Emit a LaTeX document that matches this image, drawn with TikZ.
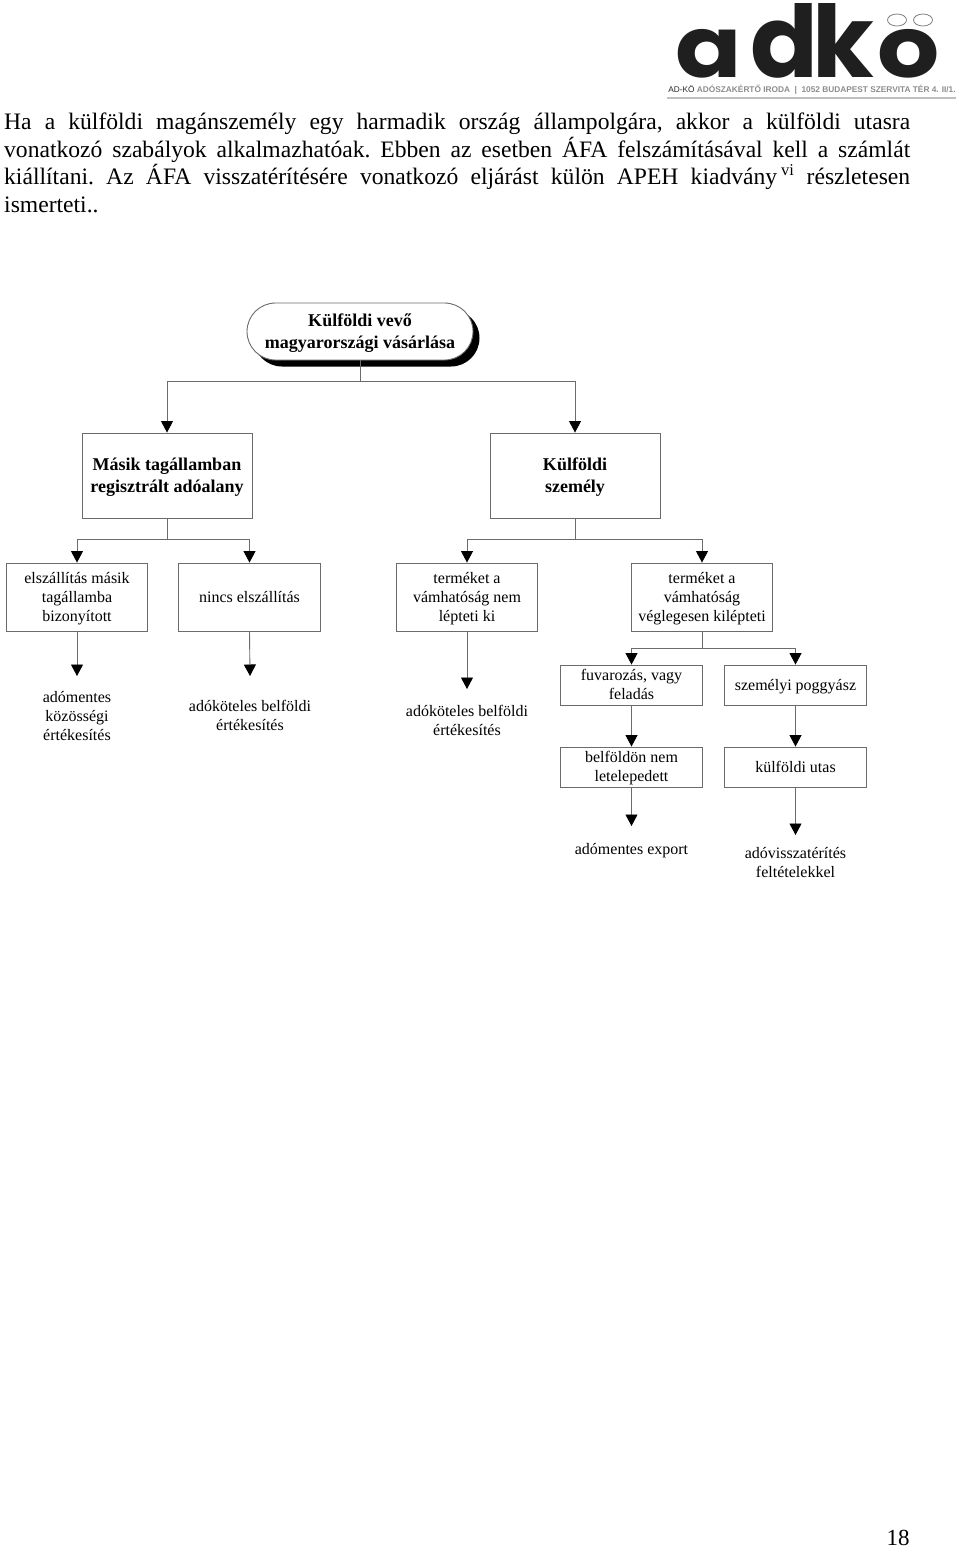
\documentclass[tikz,border=0pt]{standalone}
\usepackage{fontspec}
\setmainfont{Liberation Serif}
\newfontfamily\logofont{Poppins}
\newfontfamily\tagfont{Liberation Sans}
\usetikzlibrary{arrows.meta,shapes.misc,shadows}
\definecolor{linegray}{gray}{0.42}
\newcommand\chartstrut{\rule[-.22\baselineskip]{0pt}{\baselineskip}}
\newcommand\tallstrut{\rule{0pt}{.79\baselineskip}}
\tikzset{
  link/.style={draw=linegray,line width=0.9pt,-{Triangle[width=12pt,length=11.5pt,color=black]}},
  struttext/.style={execute at begin node=\chartstrut,execute at end node=\chartstrut},
  plainbox/.style={draw=linegray,line width=0.9pt,align=center,inner sep=0pt,struttext,font=\fontsize{16}{19}\selectfont},
  smallbox/.style={plainbox,minimum width=141.5pt,minimum height=68pt},
  thinbox/.style={plainbox,minimum width=141.5pt,minimum height=40pt},
  headbox/.style={plainbox,minimum width=170pt,minimum height=85pt,font=\fontsize{18}{22}\selectfont\bfseries},
  result/.style={align=center,inner sep=0pt,struttext,font=\fontsize{16}{19}\selectfont},
  logoletter/.style={inner sep=0pt,anchor=base,text=black!88,font=\logofont\fontsize{100}{100}\selectfont\bfseries},
  logoround/.style={logoletter,font=\logofont\fontsize{85}{85}\selectfont\bfseries}
}
\begin{document}
\begin{tikzpicture}[x=1pt,y=-1pt]
\useasboundingbox (0,0) rectangle (960,1548);
% logo
\node[logoround] (logoa) at (709,77) {\scalebox{1.15}[1]{a}};
\node[logoletter] (logod) at (784,77) {d};
\node[logoletter] (logok) at (843,77) {k};
\node[logoround] (logoo) at (909,77) {\scalebox{1.15}[1]{o}};
\draw[gray,line width=0.8pt] (897,20) ellipse (9.5 and 6);
\draw[gray,line width=0.8pt] (923,20) ellipse (9.5 and 6);
\node[inner sep=0pt,text=black!45,font=\tagfont\fontsize{8.3}{10}\selectfont\bfseries] (tagline) at (812,90)
  {\textcolor{black!85}{\mdseries AD-KÖ} ADÓSZAKÉRTŐ IRODA \;|\; 1052 BUDAPEST SZERVITA TÉR 4. II/1.};
\fill[black!25] (667,97) rectangle (956,99);
% text above the chart
\node[anchor=north west,inner sep=0pt,text width=906pt,align=justify,font=\fontsize{23.6}{27.5}\selectfont\frenchspacing] (intro) at (4,113)
  {Ha a külföldi magánszemély egy harmadik ország állampolgára, akkor a külföldi utasra\linebreak
   vonatkozó szabályok alkalmazhatóak. Ebben az esetben ÁFA felszámításával kell a számlát\linebreak
   kiállítani. Az ÁFA visszatérítésére vonatkozó eljárást külön APEH kiadvány\,\textsuperscript{vi} részletesen\linebreak
   ismerteti..};
% chart
\node[plainbox,rounded rectangle,minimum width=226pt,minimum height=57pt,fill=white,
  font=\fontsize{18}{22}\selectfont\bfseries,
  drop shadow={shadow xshift=6.5pt,shadow yshift=-6.5pt,fill=black,opacity=1}] (vevo) at (360,331.5)
  {\tallstrut Külföldi vevő\\magyarországi vásárlása};
\node[headbox] (adoalany) at (167,475.5) {\tallstrut Másik tagállamban\\regisztrált adóalany};
\node[headbox] (szemely) at (575,475.5) {\tallstrut Külföldi\\személy};
\node[smallbox] (bizonyitott) at (77,597) {\tallstrut elszállítás másik\\tagállamba\\bizonyított};
\node[smallbox] (nincs) at (249.5,597) {nincs elszállítás};
\node[smallbox] (nemlep) at (467,597) {\tallstrut terméket a\\vámhatóság nem\\lépteti ki};
\node[smallbox] (kilep) at (702,597) {\tallstrut terméket a\\vámhatóság\\véglegesen kilépteti};
\node[thinbox] (fuvar) at (631.5,685) {\tallstrut fuvarozás, vagy\\feladás};
\node[thinbox] (poggyasz) at (795.5,685) {személyi poggyász};
\node[thinbox] (letelep) at (631.5,767) {\tallstrut belföldön nem\\letelepedett};
\node[thinbox] (utas) at (795.5,767) {külföldi utas};
\node[result] (kozossegi) at (77,716) {\tallstrut adómentes\\közösségi\\értékesítés};
\node[result] (belfoldi) at (250,716) {\tallstrut adóköteles belföldi\\értékesítés};
\node[result] (belfoldib) at (467,721) {\tallstrut adóköteles belföldi\\értékesítés};
\node[result] (export) at (631.5,849) {adómentes export};
\node[result] (visszater) at (795.5,863) {\tallstrut adóvisszatérítés\\feltételekkel};
\coordinate (endkoz) at (77,676);
\coordinate (endbel) at (250,676);
\coordinate (endbelb) at (467,689);
\coordinate (endexp) at (631.5,826);
\coordinate (endvis) at (795.5,835);
% elbow connectors
\foreach \from/\to/\drop in {vevo/adoalany/20.5,vevo/szemely/20.5,adoalany/bizonyitott/21,adoalany/nincs/21,
  szemely/nemlep/21,szemely/kilep/21,kilep/fuvar/17,kilep/poggyasz/17}
  \draw[link] (\from.south) -- ++(0,\drop) -| (\to.north);
% straight connectors
\foreach \from/\to in {fuvar.south/letelep.north,poggyasz.south/utas.north,bizonyitott.south/endkoz,nincs.south/endbel,
  nemlep.south/endbelb,letelep.south/endexp,utas.south/endvis}
  \draw[link] (\from) -- (\to);
\node[inner sep=0pt,font=\fontsize{23}{27}\selectfont] (oldal) at (898,1538) {18};
\end{tikzpicture}
\end{document}
